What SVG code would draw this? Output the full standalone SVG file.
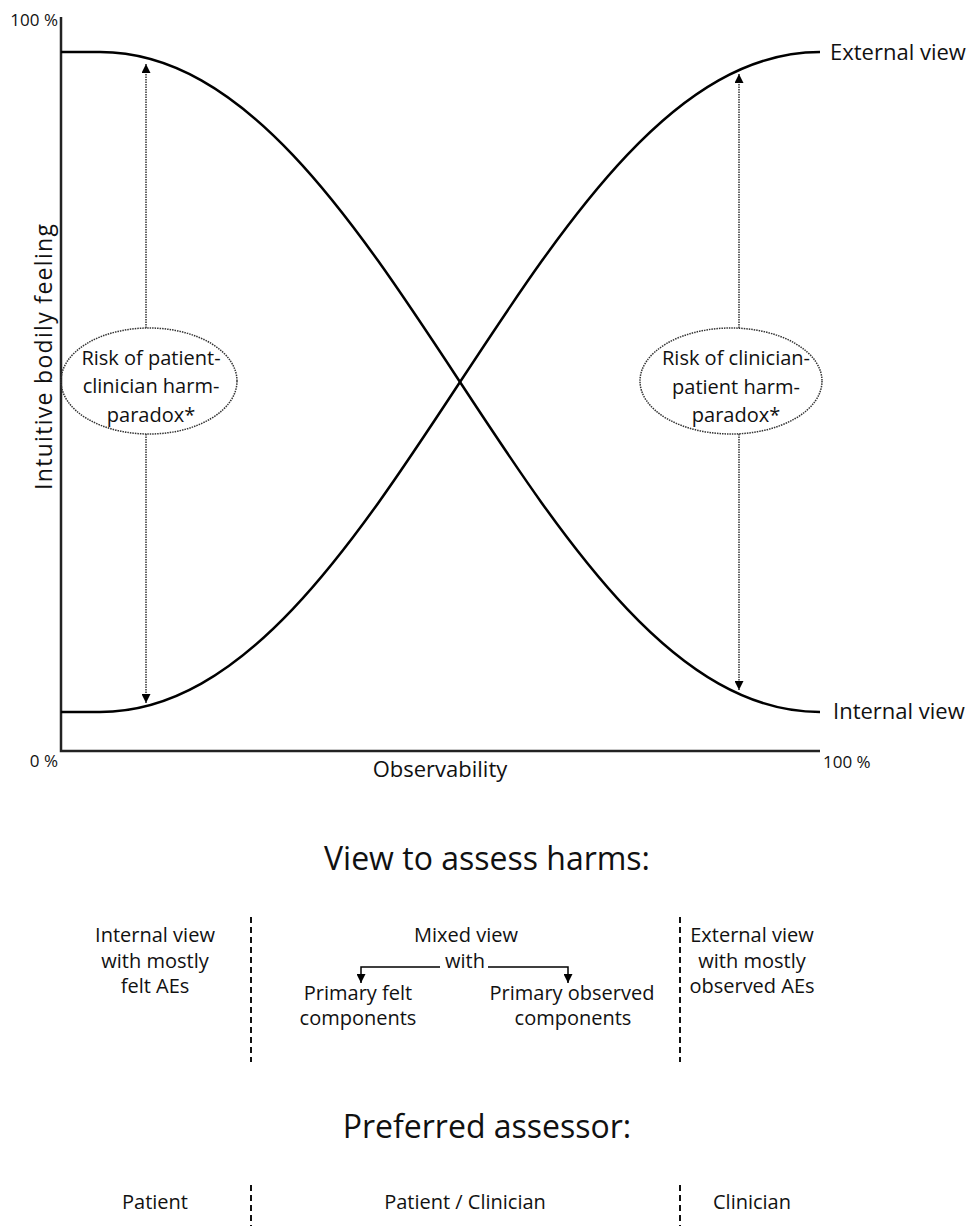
<svg xmlns="http://www.w3.org/2000/svg" width="974" height="1226" viewBox="0 0 974 1226">
<style>
text{font-family:"Open Sans","Liberation Sans",sans-serif;fill:#111}
.b{font-size:20px}
.m{text-anchor:middle}
.axis{stroke:#222;stroke-width:2.5;fill:none}
.curve{stroke:#000;stroke-width:2.5;fill:none}
.dot{stroke:#333;stroke-width:1.5;stroke-dasharray:1.5 1;fill:none}
.dash{stroke:#111;stroke-width:2;stroke-dasharray:6 4;fill:none}
.conn{stroke:#000;stroke-width:1.5;fill:none}
</style>
<defs>
<marker id="ah" viewBox="0 0 10 10" refX="10" refY="5" markerWidth="9" markerHeight="9" markerUnits="userSpaceOnUse" orient="auto">
<path d="M0,0 L10,5 L0,10 z" fill="#000"/>
</marker>
</defs>
<g id="axes">
<path class="axis" d="M61,17 V751 H820"/>
<text x="58" y="26" font-size="17" text-anchor="end">100 %</text>
<text x="58" y="767" font-size="17" text-anchor="end">0 %</text>
<text x="823" y="768" font-size="17">100 %</text>
<text x="440" y="777" font-size="22" class="m">Observability</text>
<text transform="translate(52,357) rotate(-90)" font-size="23" class="m" textLength="266" lengthAdjust="spacing">Intuitive bodily feeling</text>
</g>
<g id="curves">
<path class="curve" d="M61,52 L100,52 C386,52 534,712 820,712"/>
<path class="curve" d="M61,712 L100,712 C386,712 534,52 820,52"/>
<text x="830" y="60" font-size="22">External view</text>
<text x="833" y="719" font-size="22">Internal view</text>
</g>
<g id="connectors">
<line class="dot" x1="146" y1="328" x2="146" y2="64" marker-end="url(#ah)"/>
<line class="dot" x1="146" y1="434" x2="146" y2="703" marker-end="url(#ah)"/>
<line class="dot" x1="739" y1="328" x2="739" y2="74" marker-end="url(#ah)"/>
<line class="dot" x1="739" y1="434" x2="739" y2="690" marker-end="url(#ah)"/>
<path class="conn" d="M440,967 H361 V983" marker-end="url(#ah)"/>
<path class="conn" d="M488,967 H568 V983" marker-end="url(#ah)"/>
</g>
<g id="risk-left">
<ellipse class="dot" cx="149" cy="381" rx="88" ry="53"/>
<text class="b m" x="151" y="365">Risk of patient-</text>
<text class="b m" x="151" y="393">clinician harm-</text>
<text class="b m" x="151" y="422">paradox*</text>
</g>
<g id="risk-right">
<ellipse class="dot" cx="731" cy="381" rx="91" ry="53"/>
<text class="b m" x="736" y="365">Risk of clinician-</text>
<text class="b m" x="736" y="394">patient harm-</text>
<text class="b m" x="736" y="422">paradox*</text>
</g>
<g id="view-title">
<text x="487" y="870" font-size="32" class="m">View to assess harms:</text>
</g>
<g id="dividers">
<line class="dash" x1="251" y1="917" x2="251" y2="1062"/>
<line class="dash" x1="680" y1="917" x2="680" y2="1062"/>
<line class="dash" x1="251" y1="1185" x2="251" y2="1226"/>
<line class="dash" x1="680" y1="1185" x2="680" y2="1226"/>
</g>
<g id="internal-view">
<text class="b m" x="155" y="942">Internal view</text>
<text class="b m" x="155" y="968">with mostly</text>
<text class="b m" x="155" y="993">felt AEs</text>
</g>
<g id="mixed-view">
<text class="b m" x="466" y="942">Mixed view</text>
<text class="b m" x="465" y="968">with</text>
</g>
<g id="primary-felt">
<text class="b m" x="358" y="1000">Primary felt</text>
<text class="b m" x="358" y="1025">components</text>
</g>
<g id="primary-observed">
<text class="b m" x="572" y="1000">Primary observed</text>
<text class="b m" x="573" y="1025">components</text>
</g>
<g id="external-view">
<text class="b m" x="752" y="942">External view</text>
<text class="b m" x="752" y="968">with mostly</text>
<text class="b m" x="752" y="993">observed AEs</text>
</g>
<g id="assessor-title">
<text x="487" y="1138" font-size="32" class="m">Preferred assessor:</text>
</g>
<g id="assessors">
<text class="b m" x="155" y="1209">Patient</text>
<text class="b m" x="465" y="1209">Patient / Clinician</text>
<text class="b m" x="752" y="1209">Clinician</text>
</g>
</svg>
